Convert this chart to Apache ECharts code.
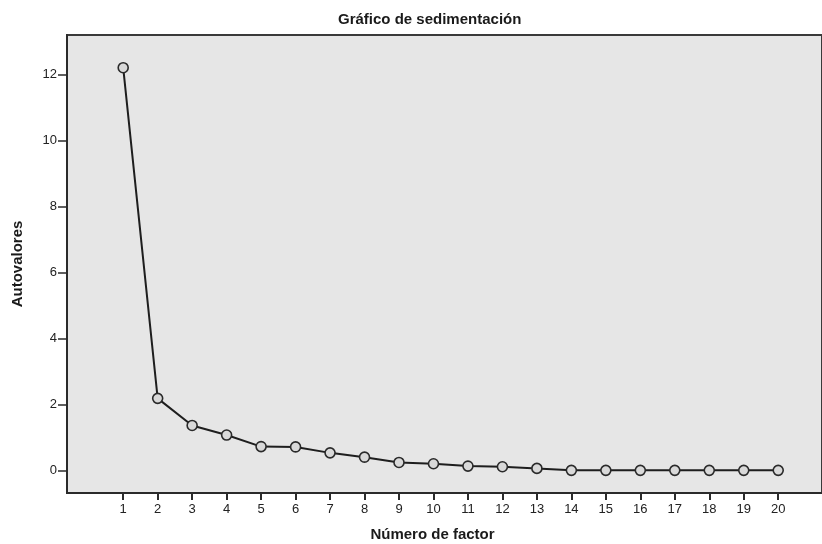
<!DOCTYPE html>
<html>
<head>
<meta charset="utf-8">
<script src="https://cdn.jsdelivr.net/npm/echarts@6/dist/echarts.min.js"></script>
<style>html,body{margin:0;padding:0;background:#fff}#c{width:822px;height:544px}</style>
</head>
<body>
<div id="c"></div>
<script>
const factors = [1,2,3,4,5,6,7,8,9,10,11,12,13,14,15,16,17,18,19,20];
const eigenvalues = [12.2,2.19,1.37,1.08,0.73,0.72,0.54,0.41,0.25,0.21,0.14,0.12,0.07,0.01,0.01,0.01,0.01,0.01,0.01,0.01];
const yTicks = [0,2,4,6,8,10,12];
const xTicks = factors;
const titleText = 'Gráfico de sedimentación';
const xTitle = 'Número de factor';
const yTitle = 'Autovalores';

const chart = echarts.init(document.getElementById('c'));
chart.setOption({
  animation: false,
  backgroundColor: '#ffffff',
  title: {
    text: titleText, left: 333, top: 7,
    textStyle: {fontFamily: 'Liberation Sans', fontSize: 15, fontWeight: 'bold', color: '#1a1a1a'}
  },
  grid: {
    left: 67, top: 35, right: 0, bottom: 51, show: true,
    containLabel: false, outerBoundsMode: 'none',
    backgroundColor: '#e6e6e6', borderColor: '#3a3a3a', borderWidth: 2
  },
  xAxis: {
    type: 'value', min: -0.63, max: 21.27,
    name: xTitle, nameLocation: 'middle', nameGap: 34,
    nameTextStyle: {fontFamily: 'Liberation Sans', fontSize: 15, fontWeight: 'bold', color: '#1a1a1a', padding: [0, 24, 0, 0]},
    axisLine: {show: true, onZero: false, lineStyle: {color: '#2a2a2a', width: 2}},
    axisTick: {show: true, customValues: xTicks, length: 7, lineStyle: {color: '#2a2a2a', width: 2}},
    axisLabel: {customValues: xTicks, fontFamily: 'Liberation Sans', fontSize: 13, color: '#222', margin: 10},
    splitLine: {show: false}
  },
  yAxis: {
    type: 'value', min: -0.675, max: 13.19,
    name: yTitle, nameLocation: 'middle', nameGap: 42, nameRotate: 90,
    nameTextStyle: {fontFamily: 'Liberation Sans', fontSize: 15, fontWeight: 'bold', color: '#1a1a1a'},
    axisLine: {show: true, onZero: false, lineStyle: {color: '#2a2a2a', width: 2}},
    axisTick: {show: true, customValues: yTicks, length: 9, lineStyle: {color: '#2a2a2a', width: 1.5}},
    axisLabel: {customValues: yTicks, fontFamily: 'Liberation Sans', fontSize: 13, color: '#222', margin: 10},
    splitLine: {show: false}
  },
  series: [{
    type: 'line',
    data: factors.map((f, i) => [f, eigenvalues[i]]),
    symbol: 'circle', symbolSize: 10,
    lineStyle: {color: '#1e1e1e', width: 2},
    itemStyle: {color: '#d9d9d9', borderColor: '#2a2a2a', borderWidth: 1.6},
    z: 3
  }]
});
</script>
</body>
</html>
